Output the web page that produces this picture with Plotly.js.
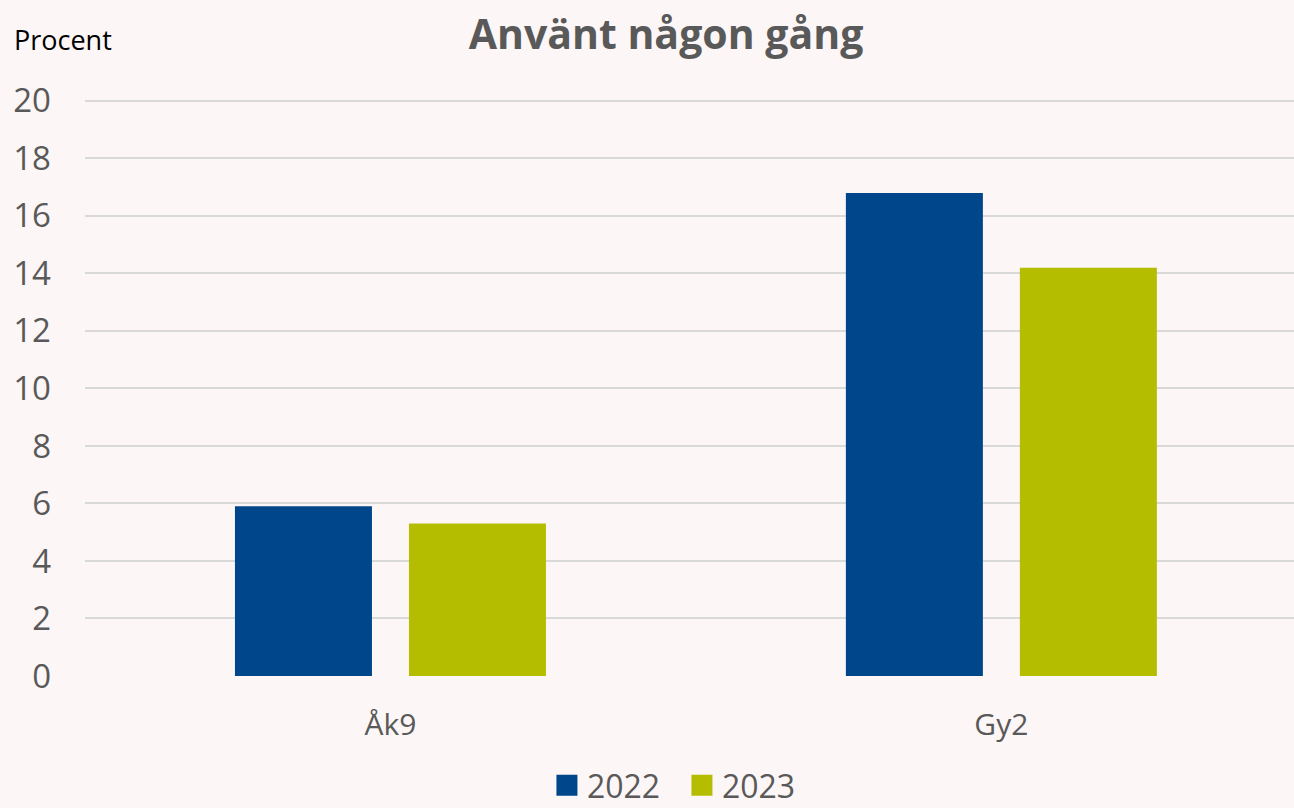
<!DOCTYPE html>
<html>
<head>
<meta charset="utf-8">
<script src="https://cdn.plot.ly/plotly-3.0.1.min.js"></script>
<style>
html,body{margin:0;padding:0;background:#fcf6f6;}
#chart{width:1294px;height:808px;}
</style>
</head>
<body>
<div id="chart"></div>
<script>
const categories = ["Åk9", "Gy2"];
const values2022 = [5.9, 16.8];
const values2023 = [5.3, 14.2];
const seriesNames = ["2022", "2023"];
const seriesColors = ["#00468a", "#b5bd00"];
const yTicks = [0, 2, 4, 6, 8, 10, 12, 14, 16, 18, 20];

const fontFam = '"Open Sans", "Noto Sans", sans-serif';
const grey = '#595959';

const traces = [
  {type: 'bar', name: seriesNames[0], x: categories, y: values2022, showlegend: false,
   marker: {color: seriesColors[0], line: {width: 0}}, hoverinfo: 'skip'},
  {type: 'bar', name: seriesNames[1], x: categories, y: values2023, showlegend: false,
   marker: {color: seriesColors[1], line: {width: 0}}, hoverinfo: 'skip'},
  // legend-only entries with larger square symbols
  {type: 'scatter', mode: 'markers', name: seriesNames[0], x: [null], y: [null],
   marker: {symbol: 'square', size: 16, color: seriesColors[0], line: {width: 5, color: seriesColors[0]}}},
  {type: 'scatter', mode: 'markers', name: seriesNames[1], x: [null], y: [null],
   marker: {symbol: 'square', size: 16, color: seriesColors[1], line: {width: 5, color: seriesColors[1]}}}
];

const layout = {
  width: 1294, height: 808,
  paper_bgcolor: '#fcf6f6', plot_bgcolor: '#fcf6f6',
  margin: {l: 85, r: 0, t: 98, b: 132},
  font: {family: fontFam, color: grey},
  title: {text: '<b>Använt någon gång</b>', font: {family: fontFam, size: 41, color: grey},
          xref: 'container', x: 0.5147, xanchor: 'center', yref: 'container', y: 0.957, yanchor: 'middle'},
  barmode: 'group', bargap: 0.4304, bargroupgap: 0.2126,
  xaxis: {type: 'category', range: [-0.5, 1.479], showgrid: false, zeroline: false, showline: false,
          ticks: '', tickfont: {size: 30, color: grey, family: fontFam}, ticklabelstandoff: 28},
  yaxis: {range: [0, 20.1], tickvals: yTicks, ticktext: yTicks.map(String), showgrid: true,
          gridcolor: '#d9d9d9', gridwidth: 2, zeroline: false, showline: false, ticks: '',
          tickfont: {size: 33, color: grey, family: fontFam}, ticklabelstandoff: 33},
  showlegend: true,
  legend: {orientation: 'h', xref: 'container', x: 0.527, xanchor: 'center', yref: 'container', y: 0.028, yanchor: 'middle',
           font: {size: 32, color: grey, family: fontFam}, bgcolor: 'rgba(0,0,0,0)', traceorder: 'normal',
           entrywidth: 90, entrywidthmode: 'pixels'},
  annotations: [{text: 'Procent', xref: 'paper', yref: 'paper', x: (12 - 85) / 1209, y: (678 - 41) / 578,
                 xanchor: 'left', yanchor: 'middle', showarrow: false,
                 font: {size: 27, color: '#000000', family: fontFam}}]
};

Plotly.newPlot('chart', traces, layout, {displayModeBar: false, staticPlot: true});
</script>
</body>
</html>
